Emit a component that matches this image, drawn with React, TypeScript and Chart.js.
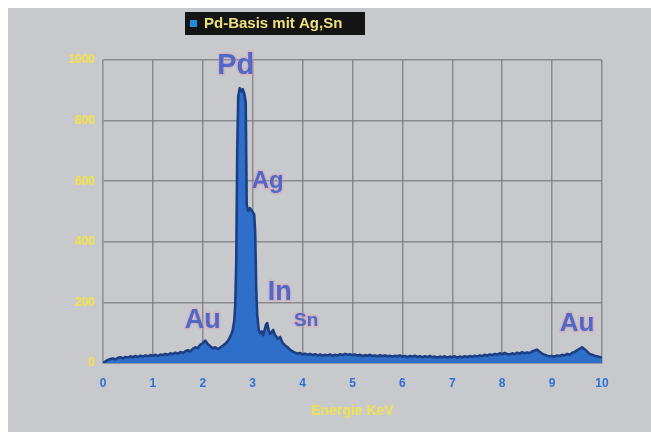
import React, { useEffect, useRef } from "react";
import { Chart, registerables } from "chart.js";

Chart.register(...registerables);

// ---- data ----
const lowEnergy = [
  0.0, 0.05, 0.1, 0.15, 0.2, 0.25, 0.3, 0.35, 0.4, 0.45,
  0.5, 0.55, 0.6, 0.65, 0.7, 0.75, 0.8, 0.85, 0.9, 0.95,
  1.0, 1.05, 1.1, 1.15, 1.2, 1.25, 1.3, 1.35, 1.4, 1.45,
  1.5, 1.55, 1.6, 1.65, 1.7, 1.75, 1.8, 1.85, 1.9, 1.95,
  2.0, 2.05, 2.1, 2.15, 2.2, 2.25, 2.3, 2.35, 2.4, 2.45,
  2.5,
];
const lowCounts = [
  0, 5, 10, 13, 15, 12, 17, 19, 15, 20,
  18, 22, 19, 23, 20, 24, 21, 25, 22, 26,
  24, 27, 23, 28, 26, 30, 27, 32, 29, 34,
  31, 36, 33, 39, 42, 38, 47, 52, 49, 60,
  66, 74, 62, 55, 48, 52, 46, 51, 57, 63,
  72,
];

const peakEnergy = [
  2.54, 2.57, 2.6, 2.63, 2.65, 2.67, 2.69, 2.71, 2.74, 2.77,
  2.8, 2.83, 2.86, 2.88, 2.91, 2.94, 2.97, 3.0, 3.03,
  3.05, 3.07, 3.09, 3.12, 3.15, 3.18, 3.21, 3.24, 3.27, 3.29,
  3.32, 3.35, 3.38, 3.41, 3.44, 3.47, 3.5, 3.55, 3.6, 3.65,
  3.7, 3.75,
];
const peakCounts = [
  84, 95, 108, 140, 190, 330, 700, 880, 907, 896,
  904, 890, 860, 520, 502, 511, 506, 498, 490,
  430, 250, 160, 110, 98, 104, 92, 110, 128, 132,
  108, 96, 102, 109, 94, 88, 80, 86, 66, 58,
  52, 43,
];

const highEnergy = [
  3.8, 3.85, 3.9, 3.95, 4.0, 4.05, 4.1, 4.15, 4.2, 4.25,
  4.3, 4.35, 4.4, 4.45, 4.5, 4.55, 4.6, 4.65, 4.7, 4.75,
  4.8, 4.85, 4.9, 4.95, 5.0, 5.05, 5.1, 5.15, 5.2, 5.25,
  5.3, 5.35, 5.4, 5.45, 5.5, 5.55, 5.6, 5.65, 5.7, 5.75,
  5.8, 5.85, 5.9, 5.95, 6.0, 6.05, 6.1, 6.15, 6.2, 6.25,
  6.3, 6.35, 6.4, 6.45, 6.5, 6.55, 6.6, 6.65, 6.7, 6.75,
  6.8, 6.85, 6.9, 6.95, 7.0, 7.05, 7.1, 7.15, 7.2, 7.25,
  7.3, 7.35, 7.4, 7.45, 7.5, 7.55, 7.6, 7.65, 7.7, 7.75,
  7.8, 7.85, 7.9, 7.95, 8.0, 8.05, 8.1, 8.15, 8.2, 8.25,
  8.3, 8.35, 8.4, 8.45, 8.5, 8.55, 8.6, 8.65, 8.7, 8.75,
  8.8, 8.85, 8.9, 8.95, 9.0, 9.05, 9.1, 9.15, 9.2, 9.25,
  9.3, 9.35, 9.4, 9.45, 9.5, 9.55, 9.6, 9.65, 9.7, 9.75,
  9.8, 9.85, 9.9, 9.95, 10.0,
];
const highCounts = [
  38, 34, 31, 33, 28, 31, 27, 30, 26, 29,
  25, 28, 24, 27, 25, 28, 24, 27, 25, 29,
  26, 30, 27, 29, 26, 28, 24, 27, 23, 26,
  24, 27, 23, 25, 22, 26, 23, 25, 22, 24,
  21, 24, 22, 25, 21, 23, 20, 23, 21, 24,
  20, 22, 19, 22, 20, 23, 19, 21, 18, 21,
  19, 22, 18, 21, 19, 22, 18, 21, 19, 22,
  20, 23, 20, 24, 21, 25, 23, 27, 24, 28,
  26, 30, 27, 32, 29, 33, 30, 28, 32, 29,
  34, 31, 36, 32, 35, 33, 38, 41, 44, 37,
  31, 27, 24, 22, 23, 21, 25, 23, 27, 25,
  30, 27, 33, 36, 42, 47, 52, 45, 38, 30,
  27, 24, 22, 20, 18,
];

const seriesLabel = "Pd-Basis mit Ag,Sn";
const xAxisTitle = "Energie KeV";
const yTickValues = [0, 200, 400, 600, 800, 1000];
const xTickValues = [0, 1, 2, 3, 4, 5, 6, 7, 8, 9, 10];

// element annotations (anchored in data units: keV, counts)
const elementNames = ["Pd", "Ag", "In", "Sn", "Au", "Au"];
const elementKeV = [2.66, 3.3, 3.54, 4.07, 2.0, 9.5];
const elementCounts = [980, 600, 234, 139, 139, 129];

const energies = [...lowEnergy, ...peakEnergy, ...highEnergy];
const counts = [...lowCounts, ...peakCounts, ...highCounts];

// ---- styles ----
const FONT = '"Liberation Sans", Arial, Helvetica, sans-serif';
const elementFontSizes = [29, 24, 27, 19, 27, 26];

const legendPlugin = {
  id: "boxLegend",
  afterDraw(chart: any) {
    const ctx = chart.ctx as CanvasRenderingContext2D;
    const label = chart.data.datasets[0].label as string;
    ctx.save();
    ctx.fillStyle = "#141414";
    ctx.fillRect(177, 4, 180, 23);
    ctx.fillStyle = "#1e8fe0";
    ctx.fillRect(182, 12, 7, 7);
    ctx.font = `bold 15px ${FONT}`;
    ctx.fillStyle = "#ece07e";
    ctx.textAlign = "left";
    ctx.textBaseline = "middle";
    ctx.fillText(label, 196, 16);
    ctx.restore();
  },
};

const elementPlugin = {
  id: "elementLabels",
  afterDatasetsDraw(chart: any) {
    const ctx = chart.ctx as CanvasRenderingContext2D;
    const xs = chart.scales.x;
    const ys = chart.scales.y;
    ctx.save();
    ctx.textAlign = "center";
    ctx.textBaseline = "middle";
    elementNames.forEach((name, i) => {
      const px = xs.getPixelForValue(elementKeV[i]);
      const py = ys.getPixelForValue(elementCounts[i]);
      ctx.font = `bold ${elementFontSizes[i]}px ${FONT}`;
      ctx.lineJoin = "round";
      ctx.strokeStyle = "rgba(220,150,175,0.45)";
      ctx.lineWidth = 3;
      ctx.strokeText(name, px, py);
      ctx.fillStyle = "#5068c8";
      ctx.fillText(name, px, py);
    });
    ctx.restore();
  },
};

export default function App() {
  const canvasRef = useRef<HTMLCanvasElement | null>(null);

  useEffect(() => {
    document.documentElement.style.overflow = "hidden";
    document.body.style.overflow = "hidden";
    const canvas = canvasRef.current;
    if (!canvas) return;
    const chart = new Chart(canvas, {
      type: "line",
      data: {
        datasets: [
          {
            label: seriesLabel,
            data: energies.map((e, i) => ({ x: e, y: counts[i] })),
            borderColor: "#1c3f84",
            backgroundColor: "#2f6fca",
            borderWidth: 2.6,
            borderJoinStyle: "round",
            pointRadius: 0,
            tension: 0,
            fill: "origin",
          },
        ],
      },
      options: {
        animation: false,
        responsive: false,
        devicePixelRatio: 1,
        layout: { padding: { top: 52, right: 49, left: 0, bottom: 0 } },
        plugins: {
          legend: { display: false },
          tooltip: { enabled: false },
        },
        scales: {
          x: {
            type: "linear",
            min: 0,
            max: 10,
            afterFit: (s: any) => {
              s.height = 69;
            },
            afterBuildTicks: (s: any) => {
              s.ticks = xTickValues.map((v) => ({ value: v }));
            },
            ticks: {
              color: "#2f70d8",
              font: { family: FONT, size: 12, weight: "bold" },
              padding: 13,
              maxRotation: 0,
              callback: (v: any) => String(v),
            },
            grid: {
              color: "rgba(118,118,124,0.75)",
              lineWidth: 1.5,
              drawTicks: false,
            },
            border: { color: "rgba(118,118,124,0.8)", width: 1.5 },
            title: {
              display: true,
              text: xAxisTitle,
              color: "#f0e250",
              font: { family: FONT, size: 14, weight: "bold" },
              padding: { top: 0, bottom: 12 },
            },
          },
          y: {
            type: "linear",
            min: 0,
            max: 1000,
            afterFit: (s: any) => {
              s.width = 95;
            },
            afterBuildTicks: (s: any) => {
              s.ticks = yTickValues.map((v) => ({ value: v }));
            },
            ticks: {
              color: "#f5e245",
              font: { family: FONT, size: 12, weight: "bold" },
              padding: 8,
              callback: (v: any) => String(v),
            },
            grid: {
              color: "rgba(118,118,124,0.75)",
              lineWidth: 1.5,
              drawTicks: false,
            },
            border: { color: "rgba(150,150,156,0.8)", width: 1.5 },
          },
        },
      },
      plugins: [legendPlugin, elementPlugin],
    });
    return () => chart.destroy();
  }, []);

  return (
    <div
      style={{
        position: "fixed",
        left: 8,
        top: 8,
        width: 643,
        height: 424,
        background: "#c8c9cd",
      }}
    >
      <canvas ref={canvasRef} width={643} height={424} style={{ display: "block" }} />
    </div>
  );
}
